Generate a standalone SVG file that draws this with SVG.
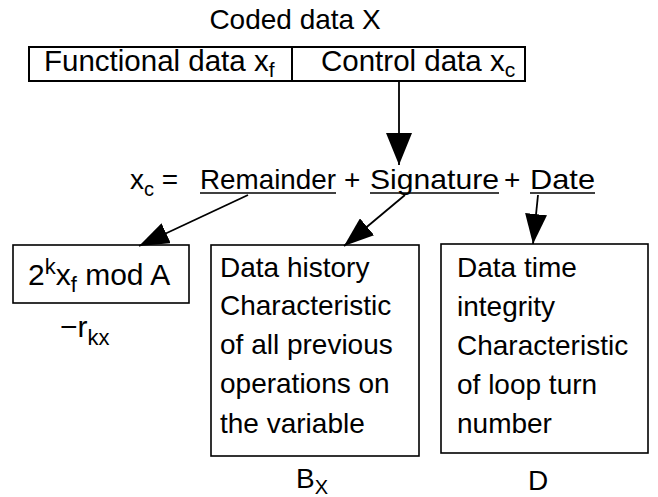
<svg xmlns="http://www.w3.org/2000/svg" width="658" height="497" viewBox="0 0 658 497">
<defs>
<style>
text{font-family:"Liberation Sans",Arial,sans-serif;font-size:28px;fill:#000}
.sub{font-size:20px}
.big{font-size:29.5px}
.big .sub{font-size:21px}
.f30{font-size:30px}
.f30 .sub{font-size:22px}
.box{fill:#fff;stroke:#000;stroke-width:1.6}
.ln{stroke:#000;stroke-width:1.8;fill:none}
.ul{stroke:#000;stroke-width:1.6}
</style>
<marker id="head" viewBox="0 0 30 22" refX="30" refY="11" markerWidth="30" markerHeight="22" markerUnits="userSpaceOnUse" orient="auto"><path d="M0,0 L30,11 L0,22 Z" fill="#000"/></marker>
<marker id="bighead" viewBox="0 0 32 26" refX="32" refY="13" markerWidth="32" markerHeight="26" markerUnits="userSpaceOnUse" orient="auto"><path d="M0,0 L32,13 L0,26 Z" fill="#000"/></marker>
</defs>
<rect width="658" height="497" fill="#fff"/>
<g id="title"><text x="295" y="29" text-anchor="middle">Coded data X</text></g>
<g id="coded-data">
<rect class="box" x="29" y="47" width="496" height="34" style="stroke-width:2"/>
<line class="ln" x1="292" y1="47" x2="292" y2="81" style="stroke-width:2"/>
<text class="big" x="44" y="71">Functional data x<tspan class="sub" dy="6">f</tspan></text>
<text class="big" x="321" y="71">Control data x<tspan class="sub" dy="6">c</tspan></text>
</g>
<g id="equation">
<text x="130" y="189">x<tspan class="sub" dy="7">c</tspan><tspan dy="-7"> =</tspan></text>
<text x="200" y="189" textLength="136" lengthAdjust="spacingAndGlyphs">Remainder</text>
<text x="344" y="189">+</text>
<text x="370" y="189" textLength="129" lengthAdjust="spacingAndGlyphs">Signature</text>
<text x="504" y="189">+</text>
<text x="530" y="189" textLength="65" lengthAdjust="spacingAndGlyphs">Date</text>
<line class="ul" x1="200" y1="193" x2="336" y2="193"/>
<line class="ul" x1="370" y1="193" x2="499" y2="193"/>
<line class="ul" x1="530" y1="193" x2="595" y2="193"/>
</g>
<g id="remainder-box">
<rect class="box" x="13" y="245" width="176" height="58"/>
<text class="f30" x="28" y="285">2<tspan class="sub" dy="-11">k</tspan><tspan dy="11">x</tspan><tspan class="sub" dy="7">f</tspan><tspan dy="-7"> mod A</tspan></text>
<text class="f30" x="60" y="337">−r<tspan class="sub" dy="8">kx</tspan></text>
</g>
<g id="signature-box">
<rect class="box" x="211" y="245" width="208" height="211"/>
<text x="220" y="277">Data history</text>
<text x="220" y="315">Characteristic</text>
<text x="220" y="354">of all previous</text>
<text x="220" y="393">operations on</text>
<text x="220" y="433">the variable</text>
<text x="296" y="488">B<tspan class="sub" dy="6">X</tspan></text>
</g>
<g id="date-box">
<rect class="box" x="441" y="244" width="207" height="209"/>
<text x="457" y="277">Data time</text>
<text x="457" y="316">integrity</text>
<text x="457" y="355">Characteristic</text>
<text x="457" y="394">of loop turn</text>
<text x="457" y="433">number</text>
<text x="538" y="490" text-anchor="middle">D</text>
</g>
<g id="connectors">
<line class="ln" x1="399" y1="81" x2="399" y2="165" marker-end="url(#bighead)"/>
<line class="ln" x1="248" y1="195" x2="139" y2="246" marker-end="url(#head)"/>
<line class="ln" x1="405" y1="195" x2="344" y2="246" marker-end="url(#head)"/>
<line class="ln" x1="538" y1="195" x2="533" y2="244" marker-end="url(#head)"/>
</g>
</svg>
